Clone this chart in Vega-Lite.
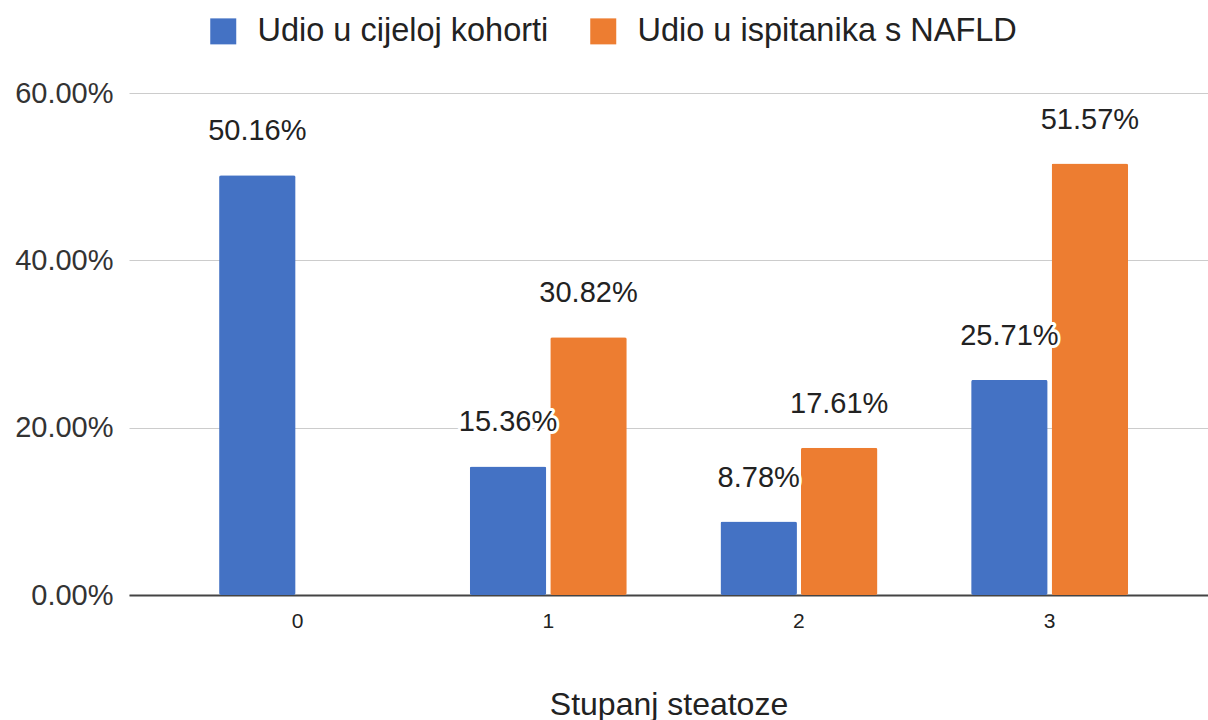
{
  "$schema": "https://vega.github.io/schema/vega-lite/v6.json",
  "width": 1079,
  "height": 502,
  "autosize": "none",
  "padding": {"left": 129, "top": 93, "right": 0, "bottom": 125},
  "background": "white",
  "config": {
    "font": "Liberation Sans",
    "view": {"stroke": null}
  },
  "data": {
    "values": [
      {"stupanj": "0", "serija": "Udio u cijeloj kohorti", "udio": 0.5016},
      {"stupanj": "1", "serija": "Udio u cijeloj kohorti", "udio": 0.1536},
      {"stupanj": "2", "serija": "Udio u cijeloj kohorti", "udio": 0.0878},
      {"stupanj": "3", "serija": "Udio u cijeloj kohorti", "udio": 0.2571},
      {"stupanj": "1", "serija": "Udio u ispitanika s NAFLD", "udio": 0.3082},
      {"stupanj": "2", "serija": "Udio u ispitanika s NAFLD", "udio": 0.1761},
      {"stupanj": "3", "serija": "Udio u ispitanika s NAFLD", "udio": 0.5157}
    ]
  },
  "encoding": {
    "x": {
      "field": "stupanj",
      "type": "nominal",
      "sort": ["0", "1", "2", "3"],
      "scale": {"domain": ["0", "1", "2", "3"], "paddingInner": 0.3738, "paddingOuter": 0.339, "align": 0.53},
      "axis": {
        "title": "Stupanj steatoze",
        "titleFont": "Liberation Sans",
        "titleFontSize": 32,
        "titleFontWeight": "normal",
        "titleColor": "#222222",
        "titlePadding": 58,
        "labelAngle": 0,
        "labelFontSize": 21,
        "labelColor": "#222222",
        "labelPadding": 15,
        "ticks": false,
        "domainColor": "#444444",
        "domainWidth": 2,
        "grid": false
      }
    },
    "xOffset": {
      "field": "serija",
      "type": "nominal",
      "scale": {"domain": ["Udio u cijeloj kohorti", "Udio u ispitanika s NAFLD"], "paddingInner": 0.0497, "paddingOuter": 0}
    },
    "y": {
      "field": "udio",
      "type": "quantitative",
      "scale": {"domain": [0, 0.6], "nice": false},
      "axis": {
        "title": null,
        "values": [0, 0.2, 0.4, 0.6],
        "format": ".2%",
        "labelFontSize": 29,
        "labelColor": "#333333",
        "labelPadding": 16,
        "ticks": false,
        "domain": false,
        "gridColor": "#cccccc",
        "gridWidth": 1
      }
    }
  },
  "layer": [
    {
      "mark": {"type": "bar", "cornerRadius": 2},
      "encoding": {
        "color": {
          "field": "serija",
          "type": "nominal",
          "scale": {"domain": ["Udio u cijeloj kohorti", "Udio u ispitanika s NAFLD"], "range": ["#4472C4", "#ED7D31"]},
          "legend": {
            "title": null,
            "orient": "none",
            "direction": "horizontal",
            "legendX": 78,
            "legendY": -78,
            "symbolType": "square",
            "symbolSize": 676,
            "symbolStrokeWidth": 0,
            "symbolOpacity": 1,
            "labelFontSize": 32.5,
            "labelColor": "#222222",
            "labelOffset": 18,
            "labelLimit": 0,
            "columnPadding": 38,
            "padding": 0
          }
        }
      }
    },
    {
      "mark": {"type": "text", "baseline": "alphabetic", "dy": -35, "fontSize": 29, "stroke": "white", "strokeWidth": 6, "strokeJoin": "round", "fill": "white"},
      "encoding": {"text": {"field": "udio", "type": "quantitative", "format": ".2%"}}
    },
    {
      "mark": {"type": "text", "baseline": "alphabetic", "dy": -35, "fontSize": 29, "fill": "#222222"},
      "encoding": {"text": {"field": "udio", "type": "quantitative", "format": ".2%"}}
    }
  ]
}
